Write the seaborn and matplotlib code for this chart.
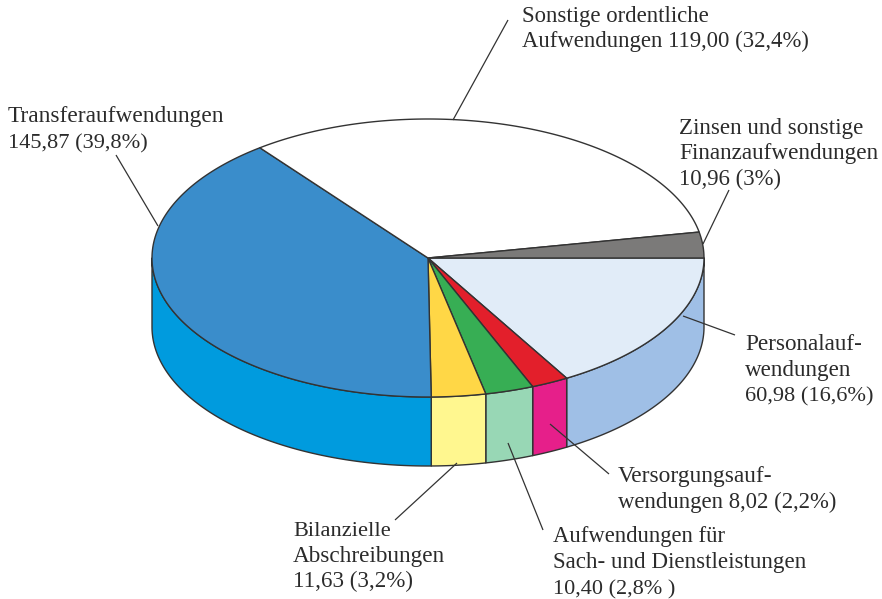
import numpy as np
import matplotlib
matplotlib.use("Agg")
import matplotlib.pyplot as plt
import seaborn as sns

# Data, clockwise from the right-hand edge of the pie
categories = ["Personalaufwendungen", "Versorgungsaufwendungen", "Aufwendungen für Sach- und Dienstleistungen",
              "Bilanzielle Abschreibungen", "Transferaufwendungen", "Sonstige ordentliche Aufwendungen",
              "Zinsen und sonstige Finanzaufwendungen"]
values = [60.98, 8.02, 10.40, 11.63, 145.87, 119.00, 10.96]
top_colors = ["#E1ECF8", "#E31F2B", "#37AE54", "#FFD746", "#3A8DCB", "#FFFFFF", "#7B7A79"]
side_colors = ["#9FBFE6", "#E61F8A", "#98D7B5", "#FFF78F", "#009BDE", "#FFFFFF", "#7B7A79"]

label_lines = [
    ["Personalauf-", "wendungen", "60,98 (16,6%)"],
    ["Versorgungsauf-", "wendungen 8,02 (2,2%)"],
    ["Aufwendungen für", "Sach- und Dienstleistungen", "10,40 (2,8% )"],
    ["Bilanzielle", "Abschreibungen", "11,63 (3,2%)"],
    ["Transferaufwendungen", "145,87 (39,8%)"],
    ["Sonstige ordentliche", "Aufwendungen 119,00 (32,4%)"],
    ["Zinsen und sonstige", "Finanzaufwendungen", "10,96 (3%)"],
]
label_x = [745, 618, 553, 293, 8, 522, 679]
label_right = [[862, 851, 873], [772, 836], [725, 806, 675], [390, 445, 412],
               [224, 147], [709, 808], [863, 878, 781]]
label_baselines = [[350, 376, 401], [482, 508], [542, 568, 594], [536, 562, 587],
                   [122, 148], [22, 47], [134, 159, 185]]
leaders = [((683, 316), (735, 335)), ((550, 424), (609, 474)), ((508, 443), (543, 530)),
           ((457, 463), (395, 520)), ((158, 226), (116, 155)), ((453, 120), (508, 20)),
           ((703, 244), (729, 190))]

CX, CY, RX, RY, DEPTH = 428, 258, 276, 139, 69
EDGE = "#333333"
TEXT = "#2B2B2B"
BASE_SIZE = 16.4

sns.set_theme(style="white")
plt.rcParams["font.family"] = ["Liberation Serif", "DejaVu Serif"]

fig = plt.figure(figsize=(8.82, 5.99), dpi=100)
ax = fig.add_axes([0, 0, 1, 1])
ax.set_xlim(0, 882)
ax.set_ylim(599, 0)
ax.axis("off")

shares = np.asarray(values) / np.sum(values)
bounds = np.concatenate([[0.0], np.cumsum(shares)]) * 2 * np.pi


def rim(a, b):
    t = np.linspace(a, b, max(int((b - a) * 90), 2))
    return CX + RX * np.cos(t), CY + RY * np.sin(t)


# Front wall: only the part of the rim facing the viewer
for i, colour in enumerate(side_colors):
    a, b = bounds[i], min(bounds[i + 1], np.pi)
    if a >= np.pi:
        continue
    x, y = rim(a, b)
    ax.fill(np.r_[x, x[::-1]], np.r_[y, y[::-1] + DEPTH], facecolor=colour,
            edgecolor=EDGE, linewidth=1.0, joinstyle="round", zorder=2)

# Top face
for i, colour in enumerate(top_colors):
    x, y = rim(bounds[i], bounds[i + 1])
    ax.fill(np.r_[CX, x], np.r_[CY, y], facecolor=colour,
            edgecolor=EDGE, linewidth=1.0, joinstyle="round", zorder=3)

# Leader lines and labels
for (p, q) in leaders:
    ax.plot([p[0], q[0]], [p[1], q[1]], color=EDGE, linewidth=0.9, zorder=4, solid_capstyle="butt")

renderer = fig.canvas.get_renderer()
for lines, x, rights, ys in zip(label_lines, label_x, label_right, label_baselines):
    for line, right, y in zip(lines, rights, ys):
        t = ax.text(x, y, line, fontsize=BASE_SIZE, color=TEXT, ha="left", va="baseline", zorder=5)
        width = t.get_window_extent(renderer).width
        t.set_fontsize(BASE_SIZE * (right - x) / width)

fig.savefig("out.png", dpi=100, facecolor="white")
